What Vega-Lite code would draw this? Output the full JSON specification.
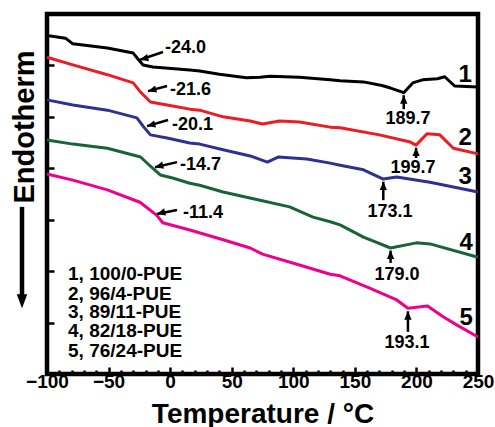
{
  "$schema": "https://vega.github.io/schema/vega-lite/v6.json",
  "width": 431,
  "height": 360,
  "autosize": "none",
  "padding": {"left": 47, "top": 14, "right": 17, "bottom": 53},
  "background": "white",
  "config": {
    "font": "Liberation Sans",
    "view": {"stroke": "black", "strokeWidth": 4.5},
    "axis": {"grid": false, "domain": false, "tickColor": "black", "labelColor": "black", "titleColor": "black", "labelFont": "Liberation Sans", "titleFont": "Liberation Sans", "labelFontWeight": "bold", "titleFontWeight": "bold"}
  },
  "datasets": {
    "curves": [
      {"s": "1", "T": -100, "v": 6.58}, {"s": "1", "T": -85, "v": 6.53}, {"s": "1", "T": -79, "v": 6.42}, {"s": "1", "T": -51, "v": 6.34}, {"s": "1", "T": -30, "v": 6.24}, {"s": "1", "T": -26, "v": 6.12}, {"s": "1", "T": -22, "v": 6.01}, {"s": "1", "T": -14, "v": 5.97}, {"s": "1", "T": 16, "v": 5.91}, {"s": "1", "T": 24, "v": 5.89}, {"s": "1", "T": 40, "v": 5.83}, {"s": "1", "T": 62, "v": 5.76}, {"s": "1", "T": 73, "v": 5.77}, {"s": "1", "T": 81, "v": 5.79}, {"s": "1", "T": 105, "v": 5.77}, {"s": "1", "T": 130, "v": 5.72}, {"s": "1", "T": 138, "v": 5.70}, {"s": "1", "T": 157, "v": 5.68}, {"s": "1", "T": 172, "v": 5.61}, {"s": "1", "T": 179, "v": 5.56}, {"s": "1", "T": 189.7, "v": 5.47}, {"s": "1", "T": 197, "v": 5.66}, {"s": "1", "T": 205, "v": 5.72}, {"s": "1", "T": 217, "v": 5.74}, {"s": "1", "T": 223, "v": 5.78}, {"s": "1", "T": 231, "v": 5.60}, {"s": "1", "T": 250, "v": 5.58},
      {"s": "2", "T": -100, "v": 6.16}, {"s": "2", "T": -79, "v": 6.01}, {"s": "2", "T": -51, "v": 5.82}, {"s": "2", "T": -30, "v": 5.66}, {"s": "2", "T": -24, "v": 5.48}, {"s": "2", "T": -16, "v": 5.29}, {"s": "2", "T": 2, "v": 5.21}, {"s": "2", "T": 16, "v": 5.15}, {"s": "2", "T": 24, "v": 5.13}, {"s": "2", "T": 43, "v": 5.00}, {"s": "2", "T": 65, "v": 4.92}, {"s": "2", "T": 75, "v": 4.86}, {"s": "2", "T": 89, "v": 4.92}, {"s": "2", "T": 105, "v": 4.90}, {"s": "2", "T": 130, "v": 4.80}, {"s": "2", "T": 138, "v": 4.79}, {"s": "2", "T": 170, "v": 4.65}, {"s": "2", "T": 195, "v": 4.51}, {"s": "2", "T": 199.7, "v": 4.45}, {"s": "2", "T": 208.6, "v": 4.67}, {"s": "2", "T": 219, "v": 4.65}, {"s": "2", "T": 230, "v": 4.39}, {"s": "2", "T": 250, "v": 4.28},
      {"s": "3", "T": -100, "v": 5.33}, {"s": "3", "T": -79, "v": 5.23}, {"s": "3", "T": -51, "v": 5.13}, {"s": "3", "T": -27, "v": 4.98}, {"s": "3", "T": -22, "v": 4.82}, {"s": "3", "T": -16, "v": 4.65}, {"s": "3", "T": -2.5, "v": 4.59}, {"s": "3", "T": 16, "v": 4.49}, {"s": "3", "T": 24, "v": 4.47}, {"s": "3", "T": 43, "v": 4.36}, {"s": "3", "T": 65, "v": 4.24}, {"s": "3", "T": 79, "v": 4.12}, {"s": "3", "T": 88, "v": 4.22}, {"s": "3", "T": 111, "v": 4.18}, {"s": "3", "T": 130, "v": 4.10}, {"s": "3", "T": 138, "v": 4.06}, {"s": "3", "T": 157, "v": 3.97}, {"s": "3", "T": 173.1, "v": 3.79}, {"s": "3", "T": 184, "v": 3.83}, {"s": "3", "T": 211, "v": 3.73}, {"s": "3", "T": 250, "v": 3.54},
      {"s": "4", "T": -100, "v": 4.55}, {"s": "4", "T": -79, "v": 4.47}, {"s": "4", "T": -51, "v": 4.39}, {"s": "4", "T": -24, "v": 4.22}, {"s": "4", "T": -16, "v": 4.04}, {"s": "4", "T": -8, "v": 3.87}, {"s": "4", "T": 2, "v": 3.81}, {"s": "4", "T": 16, "v": 3.71}, {"s": "4", "T": 24, "v": 3.67}, {"s": "4", "T": 43, "v": 3.54}, {"s": "4", "T": 73, "v": 3.38}, {"s": "4", "T": 97, "v": 3.25}, {"s": "4", "T": 116, "v": 3.05}, {"s": "4", "T": 130, "v": 2.96}, {"s": "4", "T": 138, "v": 2.90}, {"s": "4", "T": 157, "v": 2.66}, {"s": "4", "T": 179, "v": 2.45}, {"s": "4", "T": 200, "v": 2.55}, {"s": "4", "T": 211, "v": 2.53}, {"s": "4", "T": 250, "v": 2.27},
      {"s": "5", "T": -100, "v": 3.89}, {"s": "5", "T": -79, "v": 3.77}, {"s": "5", "T": -51, "v": 3.58}, {"s": "5", "T": -24.5, "v": 3.34}, {"s": "5", "T": -11, "v": 3.09}, {"s": "5", "T": -6, "v": 2.94}, {"s": "5", "T": 16, "v": 2.80}, {"s": "5", "T": 43, "v": 2.61}, {"s": "5", "T": 65, "v": 2.45}, {"s": "5", "T": 75, "v": 2.33}, {"s": "5", "T": 105, "v": 2.12}, {"s": "5", "T": 130, "v": 1.94}, {"s": "5", "T": 138, "v": 1.91}, {"s": "5", "T": 162, "v": 1.67}, {"s": "5", "T": 184, "v": 1.44}, {"s": "5", "T": 193.1, "v": 1.28}, {"s": "5", "T": 209, "v": 1.32}, {"s": "5", "T": 222, "v": 1.11}, {"s": "5", "T": 233, "v": 0.95}, {"s": "5", "T": 250, "v": 0.72}
    ],
    "tgArrows": [
      {"T": -5.8, "v": 6.26, "T2": -24.5, "v2": 6.11},
      {"T": -2.5, "v": 5.60, "T2": -18.0, "v2": 5.50},
      {"T": -1.7, "v": 4.94, "T2": -18.8, "v2": 4.82},
      {"T": 5.6, "v": 4.12, "T2": -12.3, "v2": 4.02},
      {"T": 5.6, "v": 3.19, "T2": -10.7, "v2": 3.11}
    ],
    "tgLabels": [
      {"T": -4.2, "v": 6.34, "label": "-24.0"},
      {"T": -0.1, "v": 5.52, "label": "-21.6"},
      {"T": 1.5, "v": 4.84, "label": "-20.1"},
      {"T": 8.0, "v": 4.06, "label": "-14.7"},
      {"T": 10.4, "v": 3.13, "label": "-11.4"}
    ],
    "tmArrows": [
      {"T": 189.7, "v": 5.15, "tip": 5.42},
      {"T": 199.7, "v": 4.20, "tip": 4.40},
      {"T": 173.1, "v": 3.38, "tip": 3.74},
      {"T": 179.0, "v": 2.16, "tip": 2.40},
      {"T": 193.1, "v": 0.82, "tip": 1.22}
    ],
    "tmLabels": [
      {"T": 193.2, "v": 4.96, "label": "189.7"},
      {"T": 197.2, "v": 4.01, "label": "199.7"},
      {"T": 178.6, "v": 3.15, "label": "173.1"},
      {"T": 184.2, "v": 1.92, "label": "179.0"},
      {"T": 192.4, "v": 0.60, "label": "193.1"}
    ],
    "curveNums": [
      {"T": 239.5, "v": 5.81, "label": "1"},
      {"T": 239.5, "v": 4.59, "label": "2"},
      {"T": 239.5, "v": 3.83, "label": "3"},
      {"T": 240.3, "v": 2.55, "label": "4"},
      {"T": 240.3, "v": 1.09, "label": "5"}
    ],
    "legendText": [
      {"T": -82.9, "v": 1.94, "label": "1, 100/0-PUE"},
      {"T": -82.9, "v": 1.56, "label": "2, 96/4-PUE"},
      {"T": -82.9, "v": 1.20, "label": "3, 89/11-PUE"},
      {"T": -82.9, "v": 0.83, "label": "4, 82/18-PUE"},
      {"T": -82.9, "v": 0.45, "label": "5, 76/24-PUE"}
    ],
    "titleArrow": [
      {"T": -120.3, "v": 3.25, "v2": 1.5, "tip": 1.28}
    ]
  },
  "encoding": {
    "x": {
      "field": "T", "type": "quantitative",
      "scale": {"domain": [-100, 250], "nice": false, "zero": false},
      "axis": {
        "values": [-100, -90, -80, -70, -60, -50, -40, -30, -20, -10, 0, 10, 20, 30, 40, 50, 60, 70, 80, 90, 100, 110, 120, 130, 140, 150, 160, 170, 180, 190, 200, 210, 220, 230, 240, 250],
        "labelExpr": "datum.value % 50 === 0 ? datum.label : ''",
        "tickSize": {"condition": {"test": "datum.value % 50 === 0", "value": -7}, "value": -4},
        "tickWidth": 2.5,
        "labelFontSize": 19,
        "labelPadding": 5,
        "labelFlush": false,
        "labelOverlap": false,
        "title": "Temperature / °C",
        "titleFontSize": 28,
        "titleY": 48,
        "titleBaseline": "alphabetic"
      }
    },
    "y": {
      "field": "v", "type": "quantitative",
      "scale": {"domain": [0, 7], "nice": false, "zero": false},
      "axis": {
        "values": [1, 2, 3, 4, 5, 6],
        "labels": false,
        "tickSize": -7,
        "tickWidth": 2.5,
        "title": "Endotherm",
        "titleFontSize": 29,
        "titleAngle": -90,
        "titleX": -14,
        "titleY": 112.5,
        "titleAlign": "center",
        "titleBaseline": "alphabetic"
      }
    }
  },
  "layer": [
    {
      "data": {"name": "curves"},
      "mark": {"type": "line", "strokeWidth": 3, "strokeJoin": "round"},
      "encoding": {
        "color": {
          "field": "s", "type": "nominal",
          "scale": {"domain": ["1", "2", "3", "4", "5"], "range": ["#000000", "#ed1c24", "#2e3192", "#196338", "#ec008c"]},
          "legend": null
        }
      }
    },
    {
      "data": {"name": "tgArrows"},
      "mark": {"type": "rule", "color": "black", "strokeWidth": 2.5},
      "encoding": {
        "x2": {"field": "T2"},
        "y2": {"field": "v2"}
      }
    },
    {
      "data": {"name": "tgArrows"},
      "mark": {"type": "point", "shape": "M0,0L-0.7,1.6L0.7,1.6Z", "filled": true, "color": "black", "opacity": 1, "size": 110, "angle": 255},
      "encoding": {
        "x": {"field": "T2", "type": "quantitative"},
        "y": {"field": "v2", "type": "quantitative"}
      }
    },
    {
      "data": {"name": "tgLabels"},
      "mark": {"type": "text", "align": "left", "baseline": "middle", "fontSize": 18, "fontWeight": "bold", "color": "black"},
      "encoding": {"text": {"field": "label"}}
    },
    {
      "data": {"name": "tmArrows"},
      "mark": {"type": "rule", "color": "black", "strokeWidth": 2.5},
      "encoding": {"y2": {"field": "tip"}}
    },
    {
      "data": {"name": "tmArrows"},
      "mark": {"type": "point", "shape": "M0,0L-0.7,1.6L0.7,1.6Z", "filled": true, "color": "black", "opacity": 1, "size": 110},
      "encoding": {
        "y": {"field": "tip", "type": "quantitative"}
      }
    },
    {
      "data": {"name": "tmLabels"},
      "mark": {"type": "text", "align": "center", "baseline": "middle", "fontSize": 18, "fontWeight": "bold", "color": "black"},
      "encoding": {"text": {"field": "label"}}
    },
    {
      "data": {"name": "curveNums"},
      "mark": {"type": "text", "align": "center", "baseline": "middle", "fontSize": 24, "fontWeight": "bold", "color": "black"},
      "encoding": {"text": {"field": "label"}}
    },
    {
      "data": {"name": "legendText"},
      "mark": {"type": "text", "align": "left", "baseline": "middle", "fontSize": 19, "fontWeight": "bold", "color": "black"},
      "encoding": {"text": {"field": "label"}}
    },
    {
      "data": {"name": "titleArrow"},
      "mark": {"type": "rule", "color": "black", "strokeWidth": 4.5},
      "encoding": {"y2": {"field": "v2"}}
    },
    {
      "data": {"name": "titleArrow"},
      "mark": {"type": "point", "shape": "M0,0L-0.75,2L0.75,2Z", "filled": true, "color": "black", "opacity": 1, "size": 196, "angle": 180},
      "encoding": {
        "y": {"field": "tip", "type": "quantitative"}
      }
    }
  ]
}
